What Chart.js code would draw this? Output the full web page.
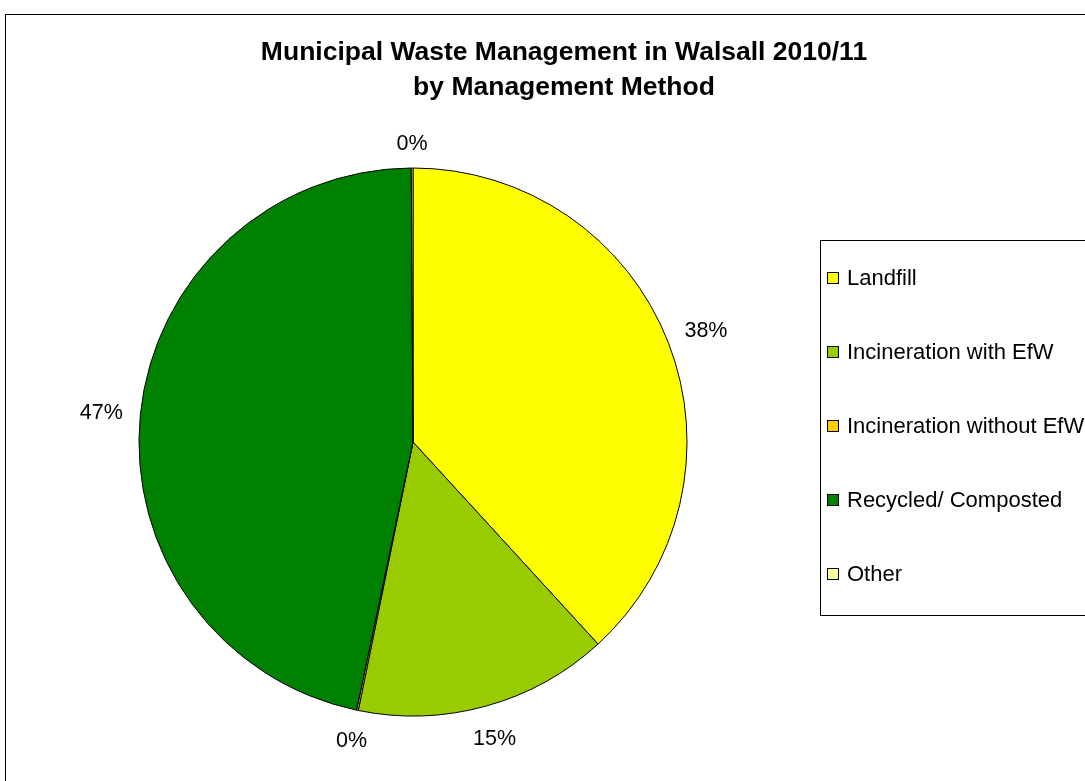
<!DOCTYPE html>
<html>
<head>
<meta charset="utf-8">
<script src="https://cdn.jsdelivr.net/npm/chart.js@4"></script>
<style>
  html, body { margin: 0; padding: 0; background: #fff; overflow: hidden; }
  #wrap { width: 1085px; height: 781px; position: relative; }
</style>
</head>
<body>
<div id="wrap"><canvas id="pieChart" width="1085" height="781"></canvas></div>
<script>
// Municipal waste by management method, share of total (%)
const methods = ['Landfill', 'Incineration with EfW', 'Incineration without EfW', 'Recycled/ Composted', 'Other'];
const shares = [38.2, 15.0, 0.1, 46.6, 0.1];
const sliceColors = ['#FFFF00', '#99CC00', '#FFCC00', '#008000', '#FFFF99'];
const titleLines = ['Municipal Waste Management in Walsall 2010/11', 'by Management Method'];

const FONT = '"Liberation Sans", Arial, sans-serif';

// frame + title
const framePlugin = {
    id: 'frame',
    beforeDraw(chart) {
        const c = chart.ctx;
        c.save();
        c.fillStyle = '#fff';
        c.fillRect(0, 0, chart.width, chart.height);
        c.strokeStyle = '#000';
        c.lineWidth = 1;
        c.strokeRect(5.5, 14.5, 1300, 1000);
        c.fillStyle = '#000';
        c.font = 'bold 26.5px ' + FONT;
        c.textAlign = 'center';
        c.textBaseline = 'middle';
        c.fillText(titleLines[0], 564, 53);
        c.fillText(titleLines[1], 564, 88);
        c.restore();
    }
};

// percentage labels outside each slice
const outLabels = {
    id: 'outLabels',
    afterDatasetsDraw(chart) {
        const c = chart.ctx;
        const meta = chart.getDatasetMeta(0);
        const data = chart.data.datasets[0].data;
        const total = data.reduce((a, b) => a + b, 0);
        c.save();
        c.font = '21.5px ' + FONT;
        c.fillStyle = '#000';
        c.textAlign = 'center';
        c.textBaseline = 'middle';
        meta.data.forEach((arc, i) => {
            const p = arc.getProps(['x', 'y', 'startAngle', 'endAngle', 'outerRadius'], true);
            const mid = (p.startAngle + p.endAngle) / 2;
            const txt = Math.round(data[i] / total * 100) + '%';
            const w = c.measureText(txt).width;
            const dx = Math.cos(mid), dy = Math.sin(mid);
            const dist = p.outerRadius + 17 + (w / 2) * Math.abs(dx) + 9 * Math.abs(dy);
            c.fillText(txt, p.x + dx * dist, p.y + dy * dist + 2.5);
        });
        c.restore();
    }
};

// boxed legend on the right
const boxLegend = {
    id: 'boxLegend',
    afterDraw(chart) {
        const c = chart.ctx;
        const ds = chart.data.datasets[0];
        c.save();
        c.strokeStyle = '#000';
        c.lineWidth = 1;
        c.strokeRect(820.5, 240.5, 400, 375);
        c.font = '22px ' + FONT;
        c.textBaseline = 'middle';
        c.textAlign = 'left';
        chart.data.labels.forEach((lab, i) => {
            const y = 277.5 + i * 74.2;
            c.fillStyle = ds.backgroundColor[i];
            c.fillRect(827.5, Math.round(y - 6) + 0.5, 11, 11);
            c.strokeRect(827.5, Math.round(y - 6) + 0.5, 11, 11);
            c.fillStyle = '#000';
            c.fillText(lab, 847, y + 1);
        });
        c.restore();
    }
};

new Chart(document.getElementById('pieChart').getContext('2d'), {
    type: 'pie',
    data: {
        labels: methods,
        datasets: [{
            data: shares,
            backgroundColor: sliceColors,
            borderColor: '#000',
            borderWidth: 1
        }]
    },
    options: {
        responsive: false,
        animation: false,
        layout: {
            padding: { left: 138.5, top: 167.5, right: 397.5, bottom: 64.5 }
        },
        plugins: {
            legend: { display: false },
            title: { display: false },
            tooltip: { enabled: false }
        }
    },
    plugins: [framePlugin, outLabels, boxLegend]
});
</script>
</body>
</html>
